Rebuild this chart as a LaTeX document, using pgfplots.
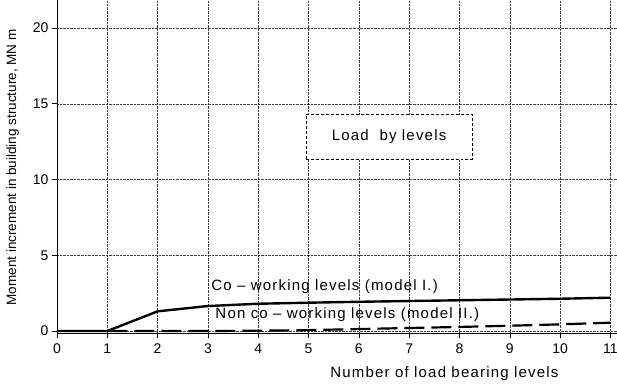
\documentclass[border=0pt]{standalone}
\usepackage{pgfplots}
\pgfplotsset{compat=1.18}
\usepackage{fontspec}
\setmainfont{Liberation Sans}
\newfontfamily\spaced[LetterSpace=8]{Liberation Sans}
\begin{document}
\begin{tikzpicture}
\useasboundingbox (-57bp,-52.7bp) rectangle (560bp,333.3bp);
\begin{axis}[
  at={(0,0)}, anchor=south west,
  scale only axis,
  width=560bp, height=333.3bp,
  xmin=0, xmax=11.13,
  ymin=-0.15, ymax=21.85,
  axis lines*=left,
  axis line style={line width=0.9pt, black},
  xtick={0,1,...,11},
  ytick={0,5,10,15,20},
  grid=major,
  major grid style={densely dotted, line width=0.5pt, black!75},
  tick style={black, line width=0.6pt},
  major tick length=5bp,
  tick align=outside,
  /pgf/number format/assume math mode=true,
  ticklabel style={font=\fontsize{14bp}{16bp}\selectfont},
  xticklabel style={yshift=-2bp},
  xlabel={Number of load bearing levels},
  xlabel style={font=\spaced\fontsize{15bp}{17bp}\selectfont, at={(axis cs:7.7,-0.15)}, anchor=north, yshift=-30bp},
  ylabel={Moment increment in building structure, MN m},
  ylabel style={font=\fontsize{13.5bp}{15bp}\selectfont, at={(axis cs:-0.88,10.8)}, anchor=center},
  clip=false,
]
\addplot[black, line width=2.4pt] coordinates {
  (0,0) (1,0) (2,1.3) (3,1.65) (4,1.8) (5,1.87) (6,1.93) (7,1.98) (8,2.03) (9,2.08) (10,2.13) (11,2.2)
};
\addplot[black, line width=2.2pt, dash pattern=on 20bp off 7bp] coordinates {
  (1,0) (2,0) (3,0) (4,0.02) (5,0.06) (6,0.13) (7,0.2) (8,0.27) (9,0.35) (10,0.44) (11,0.55)
};
\node[draw, densely dashed, line width=0.6pt, minimum width=166bp, minimum height=45bp,
  font=\spaced\fontsize{15bp}{17bp}\selectfont, fill=white] at (axis cs:6.6,12.8) {Load \ by levels};
\node[anchor=west, font=\spaced\fontsize{15bp}{17bp}\selectfont] at (axis cs:3.0,2.9) {Co – working levels (model I.)};
\node[anchor=west, font=\spaced\fontsize{15bp}{17bp}\selectfont] at (axis cs:3.08,1.1) {Non co – working levels (model II.)};
\end{axis}
\end{tikzpicture}
\end{document}
